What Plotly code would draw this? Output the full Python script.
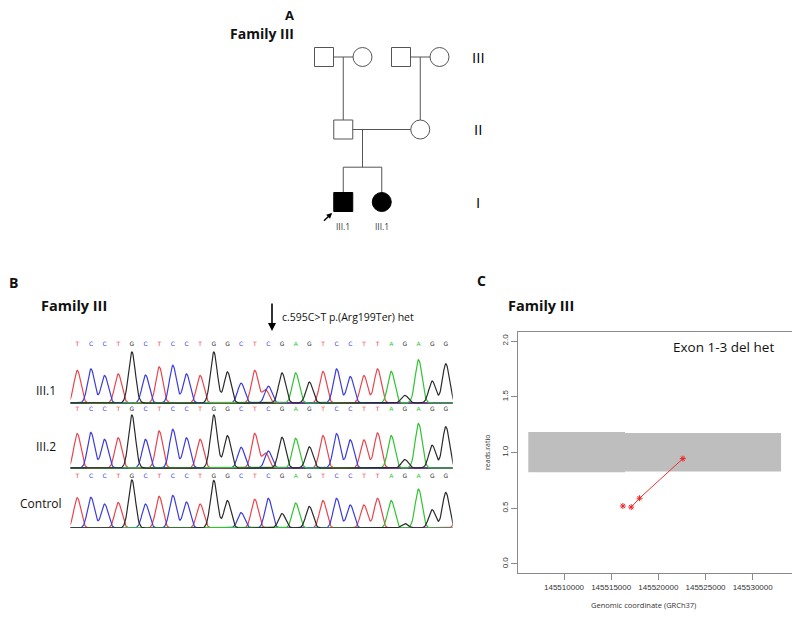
import numpy as np
import plotly.graph_objects as go

# the page body keeps its default 8px margin, so the figure is drawn inside it
PAGE_W, PAGE_H, BODY = 800, 618, 8
W, H = PAGE_W - 2 * BODY, PAGE_H - 2 * BODY
FONT = "Open Sans"

# ---------------- data ----------------
# pedigree (panel A)
ped_col = [0, 1, 2, 3, 0.5, 2.5, 0.5, 1.5]
ped_gen = [3, 3, 3, 3, 2, 2, 1, 1]
ped_sex = ["M", "F", "M", "F", "M", "F", "M", "F"]
ped_aff = [0, 0, 0, 0, 0, 0, 1, 1]
ped_label = ["", "", "", "", "", "", "III.1", "III.1"]
couples = [(0, 1), (2, 3), (4, 5)]
single_child = {4: 0, 5: 1}          # child -> couple
sibship = {"couple": 2, "drop_col": 1.0, "bar_gen": 1.48, "kids": [6, 7]}
gen_names = ["III", "II", "I"]
gen_levels = [3, 2, 1]

# chromatograms (panel B)
bases = list("TCCTGCTCCTGGCTCGAGTCCTTAGAGG")
h_iii1 = [.64, .67, .54, .57, 1.0, .55, .71, .74, .57, .54, 1.0, .61, .39, .64,
          .33, .59, .59, .41, .62, .67, .52, .54, .67, .62, .15, .85, .43, .77]
h_iii2 = [.65, .67, .54, .57, 1.0, .54, .70, .73, .57, .54, 1.0, .61, .39, .65,
          .32, .58, .56, .40, .61, .65, .53, .53, .66, .61, .16, .84, .43, .78]
h_ctrl = [.63, .64, .50, .53, 1.0, .50, .66, .68, .54, .50, .99, .57, .32, .60,
          .62, .30, .52, .45, .57, .62, .48, .48, .62, .57, .09, .81, .38, .74]
het_index = 14
het_t_iii1 = .26
het_t_iii2 = .28
ctrl_trailing_t = .45
row_names = ["III.1", "III.2", "Control"]

# CNV plot (panel C)
band_x = [145506214, 145516470, 145533010]
band_hi = [1.183, 1.175]
band_lo = [0.822, 0.830]
cnv_x = [145516240, 145517120, 145518010, 145522600]
cnv_y = [0.52, 0.51, 0.59, 0.945]
cnv_xticks = [145510000, 145515000, 145520000, 145525000, 145530000]
cnv_yticks = [0.0, 0.5, 1.0, 1.5, 2.0]

base_col = {"A": "#2fc42f", "C": "#3c3cdc", "G": "#2a2a2a", "T": "#e8454e"}


def px(x):
    return (x - BODY) / W


def py(y):
    return 1 - (y - BODY) / H


fig = go.Figure()

# ---------------- panel A : pedigree ----------------
line_style = dict(color="#555555", width=1)
for a, b in couples:
    fig.add_trace(go.Scatter(x=[ped_col[a], ped_col[b]], y=[ped_gen[a], ped_gen[b]],
                             mode="lines", line=line_style, xaxis="x", yaxis="y"))
for child, c in single_child.items():
    a, b = couples[c]
    mid = (ped_col[a] + ped_col[b]) / 2
    fig.add_trace(go.Scatter(x=[mid, ped_col[child]], y=[ped_gen[a], ped_gen[child]],
                             mode="lines", line=line_style, xaxis="x", yaxis="y"))
a, b = couples[sibship["couple"]]
fig.add_trace(go.Scatter(x=[sibship["drop_col"], sibship["drop_col"]],
                         y=[ped_gen[a], sibship["bar_gen"]],
                         mode="lines", line=line_style, xaxis="x", yaxis="y"))
kids = sibship["kids"]
fig.add_trace(go.Scatter(x=[ped_col[kids[0]], ped_col[kids[0]], ped_col[kids[-1]], ped_col[kids[-1]]],
                         y=[ped_gen[kids[0]], sibship["bar_gen"], sibship["bar_gen"], ped_gen[kids[-1]]],
                         mode="lines", line=line_style, xaxis="x", yaxis="y"))

for i in range(len(ped_col)):
    fig.add_trace(go.Scatter(
        x=[ped_col[i]], y=[ped_gen[i]], mode="markers", xaxis="x", yaxis="y",
        marker=dict(symbol="square" if ped_sex[i] == "M" else "circle", size=19,
                    color="black" if ped_aff[i] else "white",
                    line=dict(color="#555555" if not ped_aff[i] else "black", width=1))))

for i in range(len(ped_col)):
    if ped_label[i]:
        fig.add_annotation(x=ped_col[i], y=0.66, xref="x", yref="y", text=ped_label[i],
                           showarrow=False, font=dict(size=8.5, color="#333333", family=FONT))
for g, name in zip(gen_levels, gen_names):
    fig.add_annotation(x=4, y=g, xref="x", yref="y", text=name, showarrow=False,
                       font=dict(size=15, color="black", family=FONT))

# ---------------- panel B : chromatograms ----------------
xs = np.arange(-0.8, 28.8, 0.04)
sigma = 0.25
rows = [
    dict(h=h_iii1, extra=[(het_index - 0.2, "T", het_t_iii1)], ax="y3", baseline=True, letter_y=1.14),
    dict(h=h_iii2, extra=[(het_index - 0.2, "T", het_t_iii2)], ax="y4", baseline=True, letter_y=1.11),
    dict(h=h_ctrl, extra=[(28, "T", ctrl_trailing_t)], ax="y5", baseline=False, letter_y=1.08),
]
for r in rows:
    if r["baseline"]:
        fig.add_trace(go.Scatter(x=[-0.5, 27.5], y=[0, 0], mode="lines",
                                 line=dict(color="#4a4a4a", width=2), xaxis="x2", yaxis=r["ax"]))
    peaks = [(i, b, hh) for i, (b, hh) in enumerate(zip(bases, r["h"]))] + r["extra"]
    for ch in "TCAG":
        sig = np.zeros_like(xs)
        for pos, b, hh in peaks:
            if b == ch:
                sig += hh * np.exp(-(xs - pos) ** 2 / (2 * sigma ** 2))
        fig.add_trace(go.Scatter(x=xs, y=sig, mode="lines", xaxis="x2", yaxis=r["ax"],
                                 line=dict(color=base_col[ch], width=1.2)))
    fig.add_trace(go.Scatter(x=list(range(len(bases))), y=[r["letter_y"]] * len(bases),
                             text=bases, mode="text", xaxis="x2", yaxis=r["ax"],
                             textfont=dict(size=6, color=[base_col[b] for b in bases],
                                           family="DejaVu Sans")))

# ---------------- panel C : CNV ratio ----------------
poly_x = [band_x[0], band_x[1], band_x[1], band_x[2], band_x[2], band_x[1], band_x[1], band_x[0]]
poly_y = [band_hi[0], band_hi[0], band_hi[1], band_hi[1], band_lo[1], band_lo[1], band_lo[0], band_lo[0]]
fig.add_trace(go.Scatter(x=poly_x, y=poly_y, fill="toself", fillcolor="#bebebe",
                         line=dict(width=0), mode="lines", xaxis="x6", yaxis="y6"))
fig.add_trace(go.Scatter(x=cnv_x[1:], y=cnv_y[1:], mode="lines",
                         line=dict(color="#ee3333", width=1), xaxis="x6", yaxis="y6"))
fig.add_trace(go.Scatter(x=cnv_x, y=cnv_y, mode="markers", xaxis="x6", yaxis="y6",
                         marker=dict(symbol="asterisk-open", size=5, color="#ee2222",
                                     line=dict(color="#ee2222", width=1))))

# ---------------- layout ----------------
hidden = dict(visible=False, showgrid=False, zeroline=False, fixedrange=True)
layout = dict(
    width=W, height=H, margin=dict(l=0, r=0, t=0, b=0),
    paper_bgcolor="white", plot_bgcolor="rgba(0,0,0,0)", showlegend=False,
    font=dict(family=FONT, color="#111111"),
    xaxis=dict(hidden, domain=[px(285.5), px(516.5)], range=[-1, 5]),
    yaxis=dict(hidden, domain=[py(238.25), py(20.75)], range=[0.5, 3.5], anchor="x"),
    xaxis2=dict(hidden, domain=[px(70.5), px(452.7)], range=[-0.5, 27.5], anchor="y3"),
    yaxis3=dict(hidden, domain=[py(405), py(338)], range=[-2 / 51, 65 / 51], anchor="x2"),
    yaxis4=dict(hidden, domain=[py(470), py(402)], range=[-2 / 53, 66 / 53], anchor="x2"),
    yaxis5=dict(hidden, domain=[py(528), py(470)], range=[0, 58 / 48], anchor="x2"),
    xaxis6=dict(domain=[px(518), px(792)], range=[145505122, 145534170], anchor="y6",
                showgrid=False, zeroline=False, showline=True, mirror=True,
                linecolor="#8a8a8a", linewidth=1, ticks="outside", ticklen=6,
                tickcolor="#8a8a8a", tickvals=cnv_xticks, ticktext=[str(v) for v in cnv_xticks],
                tickfont=dict(size=8, color="#333333", family="Liberation Sans")),
    yaxis6=dict(domain=[py(573), py(332)], range=[-0.081, 2.081], anchor="x6",
                showgrid=False, zeroline=False, showline=True, mirror=True,
                linecolor="#8a8a8a", linewidth=1, ticks="outside", ticklen=6,
                tickcolor="#8a8a8a", tickvals=cnv_yticks, ticktext=[f"{v:.1f}" for v in cnv_yticks],
                tickangle=-90, tickfont=dict(size=8, color="#333333", family="Liberation Sans")),
)
fig.update_layout(**layout)


def note(x, y, text, size, bold=False, **kw):
    fig.add_annotation(x=px(x), y=py(y), xref="paper", yref="paper", showarrow=False,
                       text=f"<b>{text}</b>" if bold else text,
                       font=dict(size=size, family=FONT, color=kw.pop("color", "#111111")),
                       xanchor=kw.pop("xanchor", "center"), yanchor="middle", **kw)


note(289, 15, "A", 13, bold=True, borderpad=0)
note(262, 33.5, "Family III", 14, bold=True, borderpad=0)
note(13, 282, "B", 14, bold=True)
note(74, 305, "Family III", 14.5, bold=True)
note(481, 280, "C", 14, bold=True)
note(541, 305, "Family III", 14.5, bold=True)
note(280, 317, "c.595C&gt;T p.(Arg199Ter) het", 10.5, xanchor="left")
note(46, 390, "III.1", 12)
note(46, 447, "III.2", 12)
note(41, 503, "Control", 12)
note(723, 347, "Exon 1-3 del het", 13.5)
note(487, 453, "reads.ratio", 7, textangle=-90, color="#333333")
note(643, 605, "Genomic coordinate (GRCh37)", 7.5, color="#333333")

# mutation arrow
fig.add_annotation(x=px(272), y=py(331), xref="paper", yref="paper", ax=0, ay=-29,
                   showarrow=True, arrowhead=2, arrowsize=1, arrowwidth=1.6,
                   arrowcolor="black", text="")
# proband arrow
fig.add_annotation(x=0.21, y=0.85, xref="x", yref="y", ax=-0.04, ay=0.72,
                   axref="x", ayref="y", showarrow=True, arrowhead=2, arrowsize=0.8,
                   arrowwidth=1.4, arrowcolor="black", text="")

fig.write_html("out.html")
